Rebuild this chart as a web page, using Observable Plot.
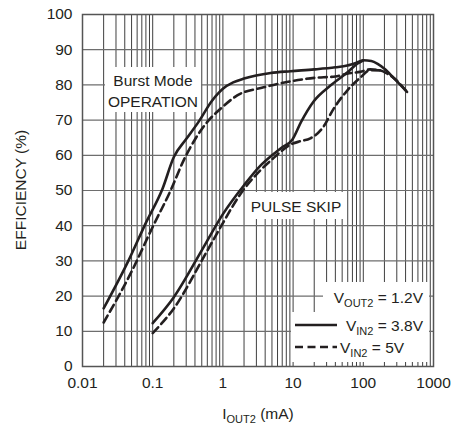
<!DOCTYPE html>
<html>
<head>
<meta charset="utf-8">
<script src="https://cdn.jsdelivr.net/npm/d3@7"></script>
<script src="https://cdn.jsdelivr.net/npm/@observablehq/plot@0.6"></script>
<style>
  html, body { margin: 0; padding: 0; background: #fff; }
  #chart svg { display: block; }
</style>
</head>
<body>
<div id="chart"></div>
<script>
// ---- data ----
const xTicks = [0.01, 0.1, 1, 10, 100, 1000];
const yTicks = [0, 10, 20, 30, 40, 50, 60, 70, 80, 90, 100];
const xGrid = [0.02,0.03,0.04,0.05,0.06,0.07,0.08,0.09,0.1,
               0.2,0.3,0.4,0.5,0.6,0.7,0.8,0.9,1,
               2,3,4,5,6,7,8,9,10,
               20,30,40,50,60,70,80,90,100,
               200,300,400,500,600,700,800,900];
const yGrid = [10, 20, 30, 40, 50, 60, 70, 80, 90];

// Burst Mode, VIN2 = 3.8V (solid)
const burstSolidX = [0.02, 0.045, 0.079, 0.138, 0.2, 0.3, 0.45, 0.7, 0.85, 1.0, 1.4, 2, 4.8, 9.2, 20, 40, 59, 80, 100, 130, 160, 200, 270, 420];
const burstSolidY = [16.5, 30, 40.6, 50.5, 59.5, 64.6, 69.5, 75.5, 77.5, 78.9, 80.7, 81.8, 83.4, 83.9, 84.4, 85, 85.5, 86.3, 87, 86.8, 86, 84.6, 82, 78];
// Burst Mode, VIN2 = 5V (dashed)
const burstDashX = [0.02, 0.051, 0.099, 0.18, 0.275, 0.4, 0.6, 0.9, 1.6, 3.8, 9.2, 20, 40, 59, 90, 125, 177, 220, 270, 420];
const burstDashY = [12.5, 27.3, 39.5, 50, 58.5, 64.5, 69.5, 73, 77, 79.3, 81, 82, 82.4, 83.2, 83.7, 84.4, 84.1, 83.2, 82, 78];
// Pulse skip, VIN2 = 3.8V (solid)
const pulseSolidX = [0.1, 0.2, 0.5, 1, 2, 3.4, 5, 7, 9.8, 13, 19.6, 34, 59, 82, 100];
const pulseSolidY = [12.3, 19.7, 33, 43.3, 51.5, 57, 60, 62.3, 64.5, 69.5, 75.3, 79.8, 83.5, 86, 87];
// Pulse skip, VIN2 = 5V (dashed)
const pulseDashX = [0.1, 0.2, 0.53, 0.92, 1.78, 3.4, 4.8, 9.8, 12.7, 17.6, 26.8, 37.7, 59, 91, 125, 177];
const pulseDashY = [9.5, 16.5, 31, 39.5, 49, 55.7, 58.5, 63.3, 64, 64.8, 68, 73.2, 78.4, 82.1, 84.2, 84.1];

const toRows = (xs, ys) => xs.map((x, i) => ({x, y: ys[i]}));

const FONT = "'Liberation Sans', Arial, Helvetica, sans-serif";
const INK = "#231f20";

const lineOpts = {x: "x", y: "y", stroke: INK, strokeWidth: 2.6, curve: "monotone-x"};
const dashOpts = {...lineOpts, strokeDasharray: "8,4.5"};

const plot = Plot.plot({
  width: 466,
  height: 427,
  marginTop: 14,
  marginRight: 33,
  marginBottom: 61,
  marginLeft: 82,
  style: {fontFamily: FONT, fontSize: "15.5px", color: INK, background: "#fff"},
  x: {type: "log", domain: [0.01, 1000]},
  y: {domain: [0, 100]},
  marks: [
    Plot.ruleX(xGrid, {stroke: "#2a2a2a", strokeWidth: 0.9}),
    Plot.ruleY(yGrid, {stroke: "#6e6e6e", strokeWidth: 1.2}),
    Plot.frame({stroke: "#555", strokeWidth: 1.5}),
    Plot.axisX({ticks: xTicks, tickSize: 0, tickPadding: 10, tickFormat: d => String(d), label: null, fill: INK}),
    Plot.axisY({ticks: yTicks, tickSize: 0, tickPadding: 10, label: null, fill: INK}),
    Plot.line(toRows(burstSolidX, burstSolidY), lineOpts),
    Plot.line(toRows(burstDashX, burstDashY), dashOpts),
    Plot.line(toRows(pulseSolidX, pulseSolidY), lineOpts),
    Plot.line(toRows(pulseDashX, pulseDashY), dashOpts)
  ]
});

document.getElementById("chart").appendChild(plot);

// ---- annotations (white label boxes, legend, axis titles) ----
const svg = d3.select(plot);
const firstLine = plot.querySelector("[aria-label='line']");
const boxes = svg.insert("g", () => firstLine).attr("fill", "#fff");
[[105, 67, 96, 45], [245, 192, 102, 27], [323, 282, 106, 31], [291, 312, 138, 50]]
  .forEach(([x, y, w, h]) => boxes.append("rect").attr("x", x).attr("y", y).attr("width", w).attr("height", h));

const ann = svg.append("g")
  .attr("font-family", FONT).attr("font-size", "15.5px").attr("fill", INK);

ann.append("text").attr("x", 153).attr("y", 86).attr("text-anchor", "middle").text("Burst Mode");
ann.append("text").attr("x", 153).attr("y", 107).attr("text-anchor", "middle").text("OPERATION");
ann.append("text").attr("x", 296).attr("y", 212).attr("text-anchor", "middle").text("PULSE SKIP");

function subText(g, x, y, parts, anchor) {
  const t = g.append("text").attr("x", x).attr("y", y).attr("text-anchor", anchor || "start");
  let shifted = false;
  parts.forEach(([s, sub]) => {
    if (sub) { t.append("tspan").attr("font-size", "11px").attr("dy", 4).text(s); shifted = true; }
    else { t.append("tspan").attr("dy", shifted ? -4 : 0).text(s); shifted = false; }
  });
  return t;
}

subText(ann, 423, 303, [["V"], ["OUT2", true], [" = 1.2V"]], "end");
subText(ann, 423, 331, [["V"], ["IN2", true], [" = 3.8V"]], "end");
subText(ann, 340, 353, [["V"], ["IN2", true], [" = 5V"]], "start");

ann.append("line").attr("x1", 295).attr("x2", 337).attr("y1", 325).attr("y2", 325)
  .attr("stroke", INK).attr("stroke-width", 2.6);
ann.append("line").attr("x1", 295).attr("x2", 337).attr("y1", 347).attr("y2", 347)
  .attr("stroke", INK).attr("stroke-width", 2.6).attr("stroke-dasharray", "8,4.5");

// axis titles
subText(ann, 258, 419, [["I"], ["OUT2", true], [" (mA)"]], "middle");
ann.append("text").attr("transform", "translate(26,190) rotate(-90)")
  .attr("text-anchor", "middle").text("EFFICIENCY (%)");
</script>
</body>
</html>
